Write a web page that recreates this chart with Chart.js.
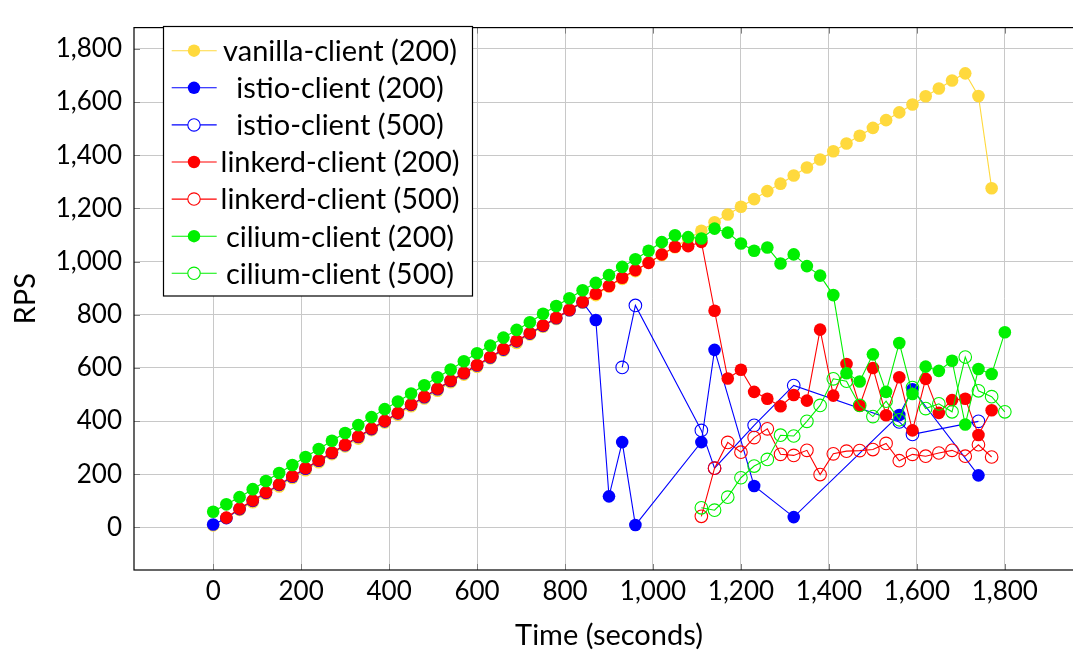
<!DOCTYPE html>
<html>
<head>
<meta charset="utf-8">
<title>RPS over time</title>
<script src="https://cdn.jsdelivr.net/npm/chart.js@4.4.1/dist/chart.umd.min.js"></script>
<style>
  html, body { margin: 0; padding: 0; background: #fff; overflow: hidden; }
  #wrap { width: 1100px; height: 653px; }
</style>
</head>
<body>
<div id="wrap"><canvas id="rpsChart" width="1100" height="653"></canvas></div>
<script>
// sample times, one every 30 s
const timeSec = [
  0, 30, 60, 90, 120, 150, 180, 210, 240, 270,
  300, 330, 360, 390, 420, 450, 480, 510, 540, 570,
  600, 630, 660, 690, 720, 750, 780, 810, 840, 870,
  900, 930, 960, 990, 1020, 1050, 1080, 1110, 1140, 1170,
  1200, 1230, 1260, 1290, 1320, 1350, 1380, 1410, 1440, 1470,
  1500, 1530, 1560, 1590, 1620, 1650, 1680, 1710, 1740, 1770,
  1800,
];

const vanilla200 = [
  8, 36, 66, 95, 126, 154, 186, 215, 245, 276,
  305, 334, 366, 395, 424, 456, 485, 514, 546, 575,
  604, 636, 665, 694, 726, 755, 784, 816, 845, 874,
  906, 935, 964, 996, 1025, 1054, 1086, 1116, 1148, 1177,
  1206, 1235, 1265, 1293, 1324, 1354, 1384, 1415, 1444, 1473,
  1503, 1532, 1561, 1591, 1622, 1651, 1681, 1708, 1623, 1276,
  null,
];

const istio200 = [
  11, 35, 69, 100, 130, 160, 191, 221, 251, 280,
  309, 340, 370, 399, 429, 461, 490, 520, 551, 580,
  609, 639, 669, 700, 729, 758, 787, 817, 847, 780,
  117, 321, 9, null, null, null, null, 321, 668, null,
  null, 156, null, null, 39, null, null, null, null, null,
  null, null, 423, 520, null, null, null, null, 196, null,
  null,
];

const istio500 = [
  null, null, null, null, null, null, null, null, null, null,
  null, null, null, null, null, null, null, null, null, null,
  null, null, null, null, null, null, null, null, null, null,
  null, 602, 835, null, null, null, null, 365, 223, null,
  null, 384, null, null, 534, null, null, null, null, null,
  null, null, 397, 350, null, null, null, null, 399, null,
  null,
];

const linkerd200 = [
  null, 37, 71, 102, 132, 162, 193, 223, 253, 282,
  311, 342, 372, 401, 431, 463, 492, 522, 553, 582,
  611, 641, 671, 702, 731, 760, 789, 819, 849, 879,
  908, 939, 968, 995, 1027, 1056, 1058, 1074, 815, 560,
  593, 510, 484, 456, 498, 477, 744, 496, 615, 458,
  600, 422, 565, 365, 559, 431, 479, 484, 348, 441,
  null,
];

const linkerd500 = [
  null, null, null, null, null, null, null, null, null, null,
  null, null, null, null, null, null, null, null, null, null,
  null, null, null, null, null, null, null, null, null, null,
  null, null, null, null, null, null, null, 42, 223, 320,
  283, 338, 371, 275, 271, 290, 199, 277, 287, 289,
  293, 316, 251, 275, 268, 280, 290, 268, 311, 265,
  null,
];

const cilium200 = [
  59, 87, 114, 144, 175, 205, 235, 265, 295, 326,
  355, 385, 415, 445, 474, 504, 535, 565, 594, 625,
  655, 684, 714, 743, 772, 804, 833, 862, 892, 920,
  949, 980, 1009, 1041, 1073, 1099, 1092, 1087, 1124, 1109,
  1068, 1041, 1053, 993, 1027, 983, 947, 874, 580, 549,
  651, 510, 694, 502, 605, 589, 627, 387, 596, 577,
  734,
];

const cilium500 = [
  null, null, null, null, null, null, null, null, null, null,
  null, null, null, null, null, null, null, null, null, null,
  null, null, null, null, null, null, null, null, null, null,
  null, null, null, null, null, null, null, 74, 65, 114,
  187, 231, 256, 347, 344, 399, 459, 559, 550, 459,
  417, 475, 405, 526, 447, 465, 435, 641, 514, 492,
  435,
];

const xTicks = [0, 200, 400, 600, 800, 1000, 1200, 1400, 1600, 1800];
const yTicks = [0, 200, 400, 600, 800, 1000, 1200, 1400, 1600, 1800];

const YELLOW = "#ffd93d";
const BLUE = "#0000ff";
const RED = "#ff0000";
const GREEN = "#00f000";
const FONT = "Lato";

Chart.defaults.font.family = FONT;
Chart.defaults.color = "#000";

// later datasets sit on top, like the plot order
function series(label, values, color, filled, order) {
  return {
    label,
    data: values,
    order,
    filled,
    borderColor: color,
    backgroundColor: color,
    borderWidth: 1.1,
    pointRadius: 6.3,
    pointHoverRadius: 6.3,
    pointBorderWidth: filled ? 0 : 1.1,
    pointBackgroundColor: filled ? color : "rgba(0,0,0,0)",
    pointBorderColor: color,
    spanGaps: true,
    fill: false,
    tension: 0,
  };
}

const frameTicks = {
  id: "frameTicks",
  beforeDatasetsDraw(chart) {
    const { ctx, chartArea: a, scales } = chart;
    ctx.save();
    ctx.strokeStyle = "#808080";
    ctx.lineWidth = 1;
    ctx.beginPath();
    xTicks.forEach((v) => {
      const px = Math.round(scales.x.getPixelForValue(v)) + 0.5;
      ctx.moveTo(px, a.bottom);
      ctx.lineTo(px, a.bottom - 6);
      ctx.moveTo(px, a.top);
      ctx.lineTo(px, a.top + 6);
    });
    yTicks.forEach((v) => {
      const py = Math.round(scales.y.getPixelForValue(v)) + 0.5;
      ctx.moveTo(a.left, py);
      ctx.lineTo(a.left + 6, py);
      ctx.moveTo(a.right, py);
      ctx.lineTo(a.right - 6, py);
    });
    ctx.stroke();
    ctx.restore();
  },
  afterDraw(chart) {
    const { ctx, chartArea: a } = chart;
    ctx.save();
    ctx.strokeStyle = "#000";
    ctx.lineWidth = 1.2;
    ctx.strokeRect(a.left, a.top, a.right - a.left, a.bottom - a.top);
    ctx.restore();
  },
};

const boxLegend = {
  id: "boxLegend",
  afterDraw(chart) {
    const ctx = chart.ctx;
    const box = { x: 163.5, y: 26.5, w: 309, h: 269.5 };
    ctx.save();
    ctx.fillStyle = "#fff";
    ctx.fillRect(box.x, box.y, box.w, box.h);
    ctx.strokeStyle = "#000";
    ctx.lineWidth = 1.2;
    ctx.strokeRect(box.x, box.y, box.w, box.h);

    chart.data.datasets.forEach((ds, i) => {
      const y = 50.7 + i * 37.1;
      ctx.strokeStyle = ds.borderColor;
      ctx.lineWidth = 1.1;
      ctx.beginPath();
      ctx.moveTo(171.7, y);
      ctx.lineTo(216.7, y);
      ctx.stroke();

      ctx.beginPath();
      ctx.arc(194, y, 6.2, 0, Math.PI * 2);
      if (ds.filled) {
        ctx.fillStyle = ds.borderColor;
        ctx.fill();
      } else {
        ctx.fillStyle = "#fff";
        ctx.fill();
        ctx.stroke();
      }

      ctx.fillStyle = "#000";
      ctx.font = `29px ${FONT}`;
      ctx.textAlign = "center";
      ctx.textBaseline = "middle";
      ctx.fillText(ds.label, 340, y + 1);
    });
    ctx.restore();
  },
};

new Chart(document.getElementById("rpsChart"), {
  type: "line",
  data: {
    labels: timeSec,
    datasets: [
      series("vanilla-client (200)", vanilla200, YELLOW, true, 7),
      series("istio-client (200)", istio200, BLUE, true, 6),
      series("istio-client (500)", istio500, BLUE, false, 5),
      series("linkerd-client (200)", linkerd200, RED, true, 4),
      series("linkerd-client (500)", linkerd500, RED, false, 3),
      series("cilium-client (200)", cilium200, GREEN, true, 2),
      series("cilium-client (500)", cilium500, GREEN, false, 1),
    ],
  },
  options: {
    responsive: false,
    animation: false,
    events: [],
    layout: { padding: { top: 9, right: 16, left: 0, bottom: 0 } },
    plugins: {
      legend: { display: false },
      tooltip: { enabled: false },
    },
    scales: {
      x: {
        type: "linear",
        min: -180,
        max: 1980,
        afterBuildTicks: (axis) => { axis.ticks = xTicks.map((value) => ({ value })); },
        afterFit: (axis) => { axis.height = 83; },
        grid: { color: "#c8c8c8", lineWidth: 1, drawTicks: false },
        border: { display: false },
        ticks: {
          padding: 6,
          color: "#000",
          font: { size: 26 },
          maxRotation: 0,
          autoSkip: false,
          callback: (v) => v.toLocaleString("en-US"),
        },
        title: {
          display: true,
          text: "Time (seconds)",
          color: "#000",
          font: { size: 29 },
          padding: { top: 0, bottom: 0 },
        },
      },
      y: {
        type: "linear",
        min: -160,
        max: 1880,
        afterBuildTicks: (axis) => { axis.ticks = yTicks.map((value) => ({ value })); },
        afterFit: (axis) => { axis.width = 134; },
        grid: { color: "#c8c8c8", lineWidth: 1, drawTicks: false },
        border: { display: false },
        ticks: {
          padding: 12,
          color: "#000",
          font: { size: 26 },
          callback: (v) => v.toLocaleString("en-US"),
        },
        title: {
          display: true,
          text: "RPS",
          color: "#000",
          font: { size: 29 },
          padding: { top: 8, bottom: 0 },
        },
      },
    },
  },
  plugins: [frameTicks, boxLegend],
});
</script>
</body>
</html>
